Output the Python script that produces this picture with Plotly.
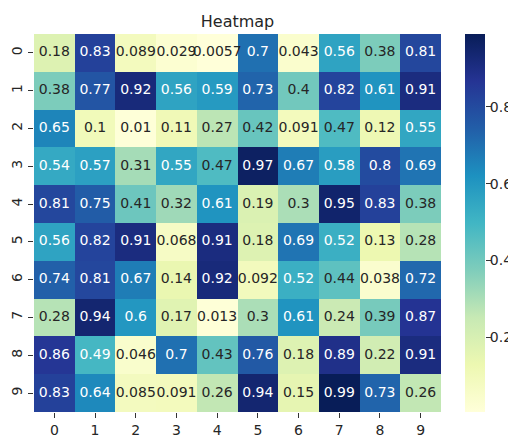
import plotly.graph_objects as go
import plotly.colors as pc

values = [
    [0.18, 0.83, 0.089, 0.029, 0.0057, 0.7, 0.043, 0.56, 0.38, 0.81],
    [0.38, 0.77, 0.92, 0.56, 0.59, 0.73, 0.4, 0.82, 0.61, 0.91],
    [0.65, 0.1, 0.01, 0.11, 0.27, 0.42, 0.091, 0.47, 0.12, 0.55],
    [0.54, 0.57, 0.31, 0.55, 0.47, 0.97, 0.67, 0.58, 0.8, 0.69],
    [0.81, 0.75, 0.41, 0.32, 0.61, 0.19, 0.3, 0.95, 0.83, 0.38],
    [0.56, 0.82, 0.91, 0.068, 0.91, 0.18, 0.69, 0.52, 0.13, 0.28],
    [0.74, 0.81, 0.67, 0.14, 0.92, 0.092, 0.52, 0.44, 0.038, 0.72],
    [0.28, 0.94, 0.6, 0.17, 0.013, 0.3, 0.61, 0.24, 0.39, 0.87],
    [0.86, 0.49, 0.046, 0.7, 0.43, 0.76, 0.18, 0.89, 0.22, 0.91],
    [0.83, 0.64, 0.085, 0.091, 0.26, 0.94, 0.15, 0.99, 0.73, 0.26],
]
x_labels = list(range(10))
y_labels = list(range(10))
cbar_ticks = [0.2, 0.4, 0.6, 0.8]

colorscale = pc.sequential.YlGnBu
flat = [v for row in values for v in row]
zmin, zmax = min(flat), max(flat)

tx, ty, tt, tc = [], [], [], []
for i, row in enumerate(values):
    for j, v in enumerate(row):
        tx.append(x_labels[j])
        ty.append(y_labels[i])
        tt.append(f"{v:.2g}")
        tc.append("white" if v > 0.48 else "#262626")

FONT = "DejaVu Sans"
# the page body has an 8px margin, so the figure is drawn 8px in from the window edge
OFF = 8
FW, FH = 516 - OFF, 437 - OFF
L, T = 34 - OFF, 34 - OFF
B = FH - (412 - OFF)
W = FW - L  # paper width in px
CB_X0 = (465 - 34) / W
CB_X1 = (485 - 34) / W

fig = go.Figure()
fig.add_trace(go.Heatmap(
    z=values, x=x_labels, y=y_labels, colorscale=colorscale,
    zmin=zmin, zmax=zmax, xgap=0, ygap=0,
    colorbar=dict(
        x=CB_X0, xanchor="left", xref="paper", xpad=0, ypad=0,
        y=0.5, yanchor="middle",
        len=1, lenmode="fraction", thickness=20, outlinewidth=0,
        ticks="", showticklabels=False,
    ),
    hoverinfo="skip",
))
fig.add_trace(go.Scatter(
    x=tx, y=ty, text=tt, mode="text",
    textfont=dict(family=FONT, size=14, color=tc),
    hoverinfo="skip", showlegend=False,
))
# axis carrying the colorbar's ticks, same scale as the colour range
fig.add_trace(go.Scatter(x=[None], y=[None], yaxis="y2", mode="markers",
                         hoverinfo="skip", showlegend=False))
fig.update_layout(
    width=FW, height=FH,
    margin=dict(l=L, r=0, t=T, b=B, autoexpand=False),
    plot_bgcolor="white", paper_bgcolor="white",
    font=dict(family=FONT, color="#262626"),
    title=dict(text="Heatmap", x=(237.5 - 34) / W, xanchor="center", xref="paper",
               yref="paper", y=1, yanchor="bottom", pad=dict(b=7),
               font=dict(family=FONT, size=16, color="#262626")),
    xaxis=dict(domain=[0, 407 / W], range=[-0.5, 9.5], tickvals=x_labels,
               ticktext=[str(v) for v in x_labels], ticks="outside", ticklen=5,
               tickcolor="#333", showgrid=False, zeroline=False, showline=False,
               automargin=False,
               tickfont=dict(family=FONT, size=14, color="#262626")),
    yaxis=dict(domain=[0, 1], range=[9.5, -0.5], tickvals=y_labels,
               ticktext=[str(v) for v in y_labels], ticks="outside", ticklen=5,
               tickcolor="#333", showgrid=False, zeroline=False, showline=False,
               tickangle=-90, automargin=False,
               tickfont=dict(family=FONT, size=14, color="#262626")),
    yaxis2=dict(overlaying="y", anchor="free", position=CB_X1, side="right",
                range=[zmin, zmax], tickvals=cbar_ticks,
                ticktext=[str(t) for t in cbar_ticks], ticks="outside", ticklen=5,
                tickcolor="#333", showgrid=False, zeroline=False, showline=False,
                automargin=False, fixedrange=True, ticklabelstandoff=-4,
                tickfont=dict(family=FONT, size=14, color="#262626")),
)
fig.write_html("out.html")
